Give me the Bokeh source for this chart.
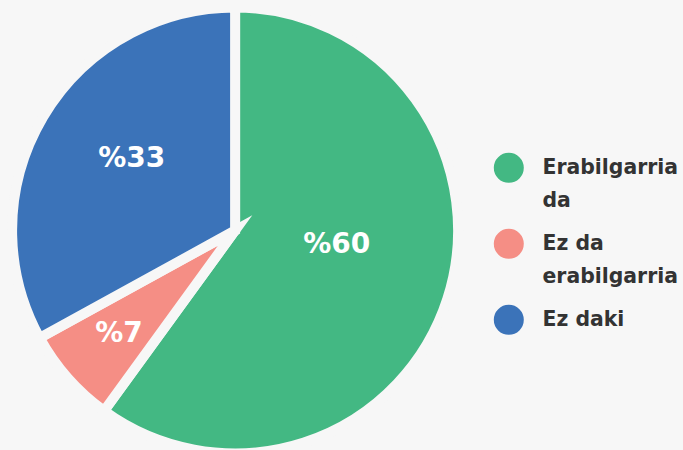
import math
import textwrap
from bokeh.plotting import figure
from bokeh.models import Range1d, ColumnDataSource
from bokeh.embed import file_html
from bokeh.resources import INLINE
from bokeh.core.properties import value

# ---- data ----
categories = ["Erabilgarria da", "Ez da erabilgarria", "Ez daki"]
values = [60, 7, 33]
value_labels = ["%60", "%7", "%33"]
colors = ["#43b883", "#f58e85", "#3b73b9"]

# ---- layout / style ----
W, H = 683, 450
BG = "#f7f7f7"
TEXT = "#333333"
FONT = "DejaVu Sans"
cx, cy, R = 234.6, 220.0, 218.0
GAP = 10
label_r = [0.47, 0.71, 0.58]
label_shift_deg = [10.7, 0.0, -4.5]

p = figure(width=W, height=H, x_range=Range1d(0, W), y_range=Range1d(0, H),
           output_backend="svg", toolbar_location=None, min_border=0,
           background_fill_color=BG, border_fill_color=BG, outline_line_color=None)
p.axis.visible = False
p.xgrid.grid_line_color = None
p.ygrid.grid_line_color = None

total = float(sum(values))
starts, ends, lx, ly = [], [], [], []
c = 0.0
for i, v in enumerate(values):
    a0 = math.pi / 2 - 2 * math.pi * c / total
    a1 = math.pi / 2 - 2 * math.pi * (c + v) / total
    starts.append(a1)
    ends.append(a0)
    mid = (a0 + a1) / 2 + math.radians(label_shift_deg[i])
    lx.append(cx + label_r[i] * R * math.cos(mid))
    ly.append(cy + label_r[i] * R * math.sin(mid))
    c += v

src = ColumnDataSource(dict(start=starts, end=ends, color=colors,
                            x=[cx] * len(values), y=[cy] * len(values)))
p.wedge(x="x", y="y", radius=R + GAP / 2, start_angle="start", end_angle="end",
        fill_color="color", line_color=BG, line_width=GAP, line_join="miter", source=src)

p.text(x=lx, y=ly, text=value_labels, text_color="white", text_font=value(FONT),
       text_font_style="bold", text_font_size="28px", text_align="center",
       text_baseline="middle")

# ---- legend ----
leg_x = 508.3
txt_x = 542
y_screen = 167.3
LINE = 32.5
circ_x, circ_y, tx, ty, tt = [], [], [], [], []
for name in categories:
    lines = textwrap.wrap(name, 12)
    circ_x.append(leg_x)
    circ_y.append(H - y_screen)
    for k, ln in enumerate(lines):
        tx.append(txt_x)
        ty.append(H - (y_screen - 0.5 + k * LINE))
        tt.append(ln)
    y_screen += len(lines) * LINE + 11

p.scatter(x=circ_x, y=circ_y, size=30, marker="circle", fill_color=colors, line_color=None)
p.text(x=tx, y=ty, text=tt, text_color=TEXT, text_font=value(FONT),
       text_font_style="bold", text_font_size="20.4px", text_align="left",
       text_baseline="middle")

html = file_html(p, INLINE)
html = html.replace("<head>", "<head><style>html,body{margin:0;padding:0;background:#f7f7f7;overflow:hidden}</style>", 1)
open("out.html", "w").write(html)
